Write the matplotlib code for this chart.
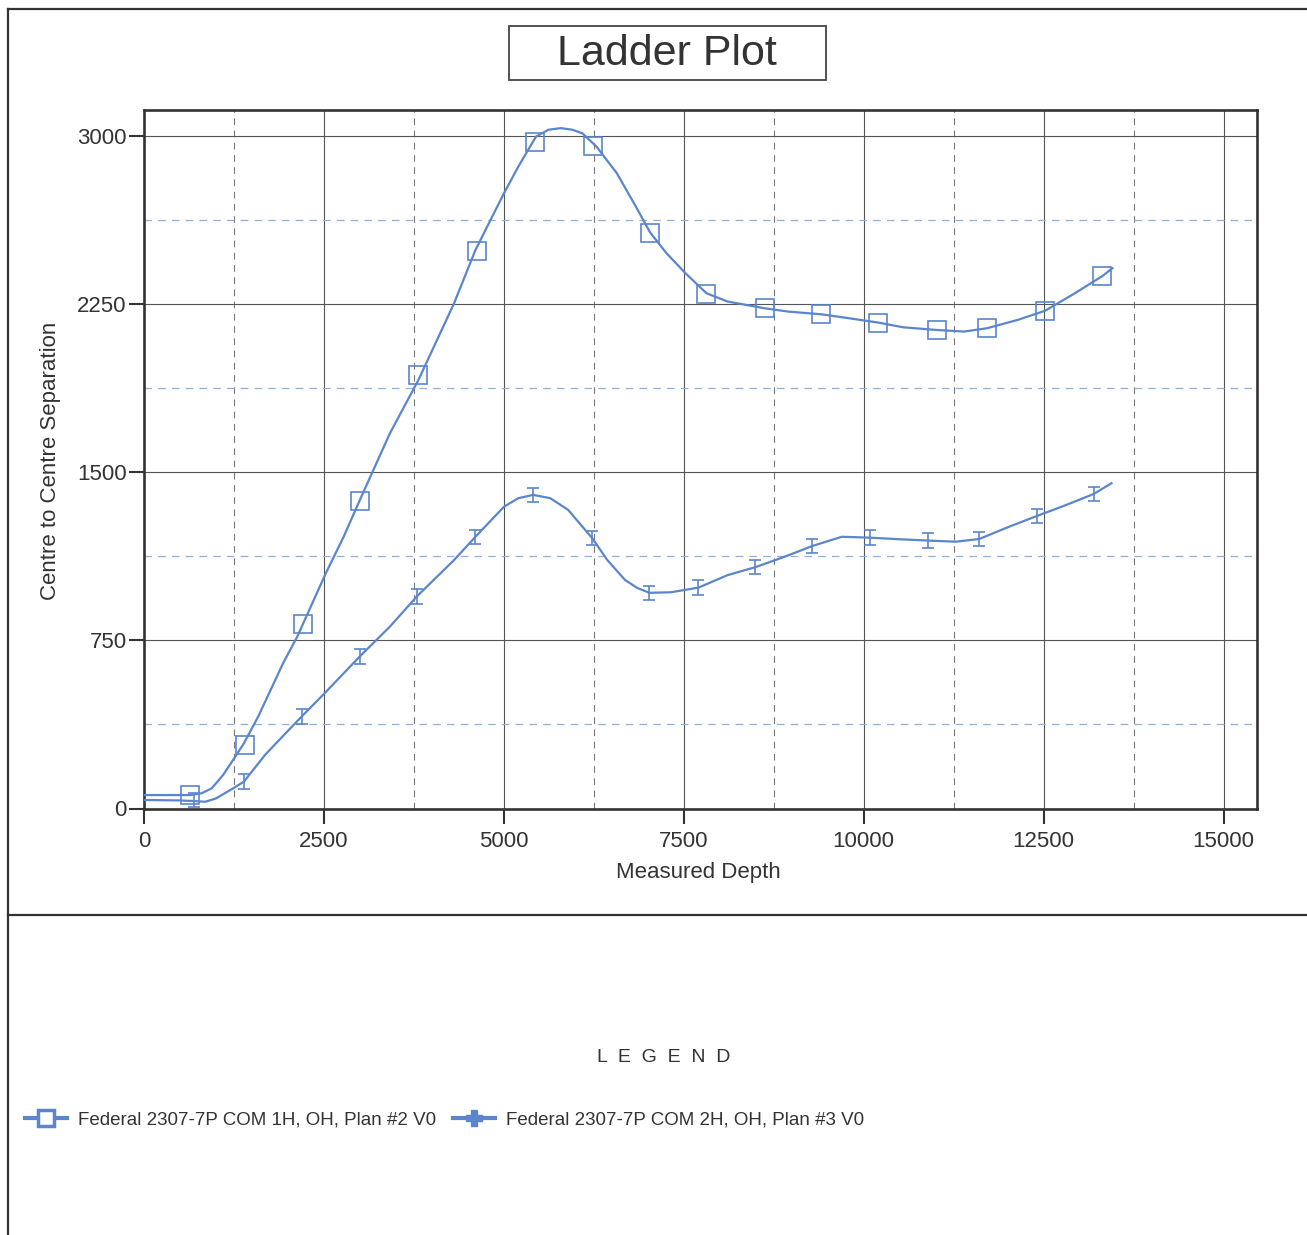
import matplotlib
matplotlib.use('Agg')
import matplotlib.pyplot as plt
from matplotlib.lines import Line2D
from matplotlib.patches import Rectangle

plt.rcParams['font.family'] = ['Liberation Sans', 'DejaVu Sans']

# curve 1: Federal 2307-7P COM 1H (line, markers every survey station)
md_line_1 = [0, 645, 800, 941, 1100, 1239, 1388, 1586, 1932, 2129, 2526, 2774, 3020, 3417,
             3813, 4308, 4605, 5001, 5200, 5446, 5620, 5793, 5950, 6091, 6288, 6569, 6834,
             7031, 7259, 7524, 7815, 8108, 8622, 8956, 9412, 9806, 10204, 10548, 11015,
             11397, 11715, 12139, 12521, 12934, 13317, 13456]
sep_line_1 = [60, 60, 68, 90, 150, 217, 291, 410, 648, 767, 1050, 1213, 1392, 1675,
              1913, 2255, 2493, 2746, 2865, 2999, 3030, 3037, 3030, 3014, 2954, 2836, 2687,
              2572, 2479, 2389, 2300, 2263, 2233, 2218, 2206, 2188, 2169, 2148, 2136,
              2129, 2144, 2181, 2222, 2300, 2377, 2412]
md_pts_1 = [645, 1397, 2214, 2996, 3813, 4630, 5437, 6239, 7031, 7815, 8622, 9412,
            10204, 11015, 11715, 12521, 13317]
sep_pts_1 = [60, 283, 824, 1374, 1935, 2490, 2977, 2959, 2571, 2297, 2233, 2206,
             2169, 2136, 2144, 2222, 2377]

# curve 2: Federal 2307-7P COM 2H
md_line_2 = [0, 500, 700, 850, 1000, 1239, 1388, 1684, 1950, 2189, 2526, 2996, 3417, 3789,
             4308, 4605, 5001, 5200, 5407, 5645, 5893, 6229, 6437, 6684, 6850, 7021, 7318,
             7704, 8110, 8492, 8902, 9288, 9695, 10090, 10487, 10893, 11278, 11605, 12021,
             12408, 12814, 13195, 13442]
sep_line_2 = [38, 36, 33, 30, 45, 90, 120, 240, 330, 410, 520, 678, 812, 946,
              1109, 1213, 1347, 1385, 1400, 1385, 1333, 1206, 1109, 1020, 985, 963, 965,
              986, 1042, 1077, 1124, 1172, 1213, 1209, 1202, 1196, 1191, 1203, 1258,
              1306, 1355, 1404, 1452]
md_pts_2 = [694, 1388, 2189, 2996, 3789, 4605, 5407, 6229, 7021, 7704, 8492, 9288,
            10090, 10893, 11605, 12408, 13195]
sep_pts_2 = [38, 120, 410, 678, 946, 1213, 1400, 1206, 963, 986, 1077, 1172,
             1209, 1196, 1203, 1306, 1404]

labels = ['Federal 2307-7P COM 1H, OH, Plan #2 V0',
          'Federal 2307-7P COM 2H, OH, Plan #3 V0']
x_major = [0, 2500, 5000, 7500, 10000, 12500, 15000]
x_minor = [1250, 3750, 6250, 8750, 11250, 13750]
y_major = [0, 750, 1500, 2250, 3000]
y_minor = [375, 1125, 1875, 2625]

blue = '#5b85cc'
dark = '#333333'
W, H = 1307, 1235

fig = plt.figure(figsize=(W / 100, H / 100), dpi=100)
fig.patch.set_facecolor('white')

ax = fig.add_axes([144 / W, 1 - 808.5 / H, (1256.7 - 144) / W, (808.5 - 110) / H])
ax.set_xlim(0, 15460)
ax.set_ylim(0, 3118)

ax.plot(md_line_1, sep_line_1, color=blue, lw=1.6, zorder=3, solid_joinstyle='round')
ax.plot(md_pts_1, sep_pts_1, ls='none', marker='s', ms=12.5, mfc='none', mec=blue, mew=1.2, zorder=4)
ax.plot(md_line_2, sep_line_2, color=blue, lw=1.6, zorder=3, solid_joinstyle='round')
ax.errorbar(md_pts_2, sep_pts_2, yerr=32, fmt='none', ecolor=blue, elinewidth=1.2,
            capsize=4, capthick=1.2, zorder=4)

ax.set_xticks(x_major)
ax.set_xticks(x_minor, minor=True)
ax.set_yticks(y_major)
ax.set_yticks(y_minor, minor=True)
ax.grid(which='major', color='#555555', lw=0.8)
ax.xaxis.grid(which='minor', color='#777777', lw=0.8, ls=(0, (6, 5)))
ax.yaxis.grid(which='minor', color='#8eb1dc', lw=0.9, ls=(0, (6, 5)))
ax.set_axisbelow(True)

ax.tick_params(which='minor', length=0)
ax.tick_params(which='major', direction='out', length=11, width=1.5, color=dark,
               labelsize=16, labelcolor=dark)
ax.tick_params(axis='y', pad=1.5)
ax.tick_params(axis='x', pad=5)
for s in ax.spines.values():
    s.set_color(dark)
    s.set_linewidth(1.9)

ax.set_xlabel('Measured Depth', fontsize=16, color=dark)
ax.set_ylabel('Centre to Centre Separation', fontsize=16, color=dark)
ax.xaxis.set_label_coords(0.4979, -0.0766)
ax.yaxis.set_label_coords(-0.0746, 0.4975)

# title box
fig.patches.append(Rectangle((509 / W, 1 - 80 / H), (826 - 509) / W, 54 / H,
                             transform=fig.transFigure, facecolor='white',
                             edgecolor='#444444', lw=1.3))
fig.text(667 / W, 1 - 54 / H, 'Ladder Plot', fontsize=31, color=dark,
         ha='center', va='center')

# page frame and divider
for xs, ys in [([8, 8], [9, H]), ([8, W], [9, 9]), ([8, W], [915, 915])]:
    fig.lines.append(Line2D([x / W for x in xs], [1 - y / H for y in ys],
                            transform=fig.transFigure, color=dark, lw=1.6))

fig.text(664 / W, 1 - 1058 / H, 'L  E  G  E  N  D', fontsize=14, color=dark,
         ha='center', va='center')

handles = [Line2D([], [], color=blue, lw=3, marker='s', ms=11, mfc='white', mec=blue, mew=2.5),
           Line2D([], [], color=blue, lw=3, marker='P', ms=12, mfc=blue, mec=blue)]
fig.legend(handles, labels, loc='center left', bbox_to_anchor=(25 / W, 1 - 1120 / H),
           ncol=2, frameon=False, borderpad=0, borderaxespad=0, handlelength=2.24,
           handletextpad=0.6, columnspacing=0.9, prop={'size': 13.5},
           labelcolor=dark)

fig.savefig('out.png', dpi=100, facecolor='white')
